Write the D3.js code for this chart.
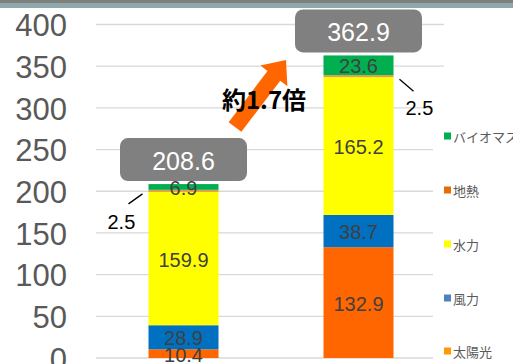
<!DOCTYPE html>
<html>
<head>
<meta charset="utf-8">
<script src="https://cdn.jsdelivr.net/npm/d3@7"></script>
<style>
  html, body { margin: 0; padding: 0; background: #fff; }
  svg { display: block; }
</style>
</head>
<body>
<svg id="chart" width="513" height="364"></svg>
<script>
// Renewable power capacity by source, two periods (stacked)
const categories = ["現在", "将来"];
const sources = ["太陽光", "風力", "水力", "地熱", "バイオマス"];
const solar   = [10.4, 132.9];
const wind    = [28.9, 38.7];
const hydro   = [159.9, 165.2];
const geo     = [2.5, 2.5];
const biomass = [6.9, 23.6];
const totals  = [208.6, 362.9];
const yTicks  = [0, 50, 100, 150, 200, 250, 300, 350, 400];
const ratioLabel = "約1.7倍";

const barColors = {
  "太陽光": "#FF6600", "風力": "#0070C0", "水力": "#FFFF00",
  "地熱": "#E4A040", "バイオマス": "#00B050"
};
const legendColors = {
  "太陽光": "#FF9900", "風力": "#4F81BD", "水力": "#FFFF00",
  "地熱": "#E46C0A", "バイオマス": "#00B050"
};

const rows = categories.map((c, i) => ({
  cat: c, "太陽光": solar[i], "風力": wind[i], "水力": hydro[i],
  "地熱": geo[i], "バイオマス": biomass[i], total: totals[i]
}));

const svg = d3.select("#chart");
const W = 513, H = 364;
const latin = "'Liberation Sans', Arial, sans-serif";
const cjk = "'Noto Sans CJK JP', sans-serif";

// window header strip
svg.append("rect").attr("x", 0).attr("y", 0).attr("width", W).attr("height", 8).attr("fill", "#8FA8AA");
svg.append("rect").attr("x", 0).attr("y", 0).attr("width", W).attr("height", 3).attr("fill", "#7F7F7F");

const x = d3.scaleBand().domain(categories).range([96, 446]).paddingInner(0.6).paddingOuter(0.3);
const y = d3.scaleLinear().domain([0, 400]).range([358, 24.5]);

// gridlines
const grid = svg.append("g");
grid.selectAll("line").data(yTicks).join("line")
  .attr("x1", 96).attr("x2", d => (y(d) < 80 ? 444 : 433))
  .attr("y1", d => y(d)).attr("y2", d => y(d))
  .attr("stroke", "#D9D9D9").attr("stroke-width", 1.3);

// y axis labels
const yAxis = svg.append("g").attr("transform", "translate(67,0)")
  .call(d3.axisLeft(y).tickValues(yTicks).tickSize(0).tickPadding(0));
yAxis.select(".domain").remove();
yAxis.selectAll("text")
  .attr("fill", "#595959").attr("font-family", latin).attr("font-size", 31)
  .attr("dy", "0.36em");

// stacked bars
const stack = d3.stack().keys(sources);
const series = stack(rows);
const bw = x.bandwidth();
const layers = svg.append("g").selectAll("g").data(series).join("g")
  .attr("fill", d => barColors[d.key]);
layers.selectAll("rect").data(d => d.map(v => ({ key: d.key, v }))).join("rect")
  .attr("x", d => x(d.v.data.cat))
  .attr("y", d => y(d.v[1]))
  .attr("width", bw)
  .attr("height", d => y(d.v[0]) - y(d.v[1]));

// in-bar value labels (geothermal values are called out beside the bars)
const labelKeys = ["太陽光", "風力", "水力", "バイオマス"];
series.filter(s => labelKeys.includes(s.key)).forEach(s => {
  svg.append("g").selectAll("text").data(s).join("text")
    .attr("x", d => x(d.data.cat) + bw / 2)
    .attr("y", d => (y(d[0]) + y(d[1])) / 2 + 1)
    .attr("text-anchor", "middle").attr("dominant-baseline", "central")
    .attr("font-family", latin).attr("font-size", 20).attr("fill", "#404040")
    .text(d => (d[1] - d[0]).toFixed(1));
});

// geothermal callouts with leader lines
const geoSeries = series.find(s => s.key === "地熱");
geoSeries.forEach((d, i) => {
  const ym = (y(d[0]) + y(d[1])) / 2;
  const left = i === 0;
  const bx = left ? x(d.data.cat) : x(d.data.cat) + bw;
  const dir = left ? -1 : 1;
  svg.append("line")
    .attr("x1", bx + dir * 6).attr("y1", ym + 3)
    .attr("x2", bx + dir * 20).attr("y2", ym + (left ? 13 : 15))
    .attr("stroke", "#000").attr("stroke-width", 1.3);
  svg.append("text")
    .attr("x", left ? bx - 41 : bx + 12).attr("y", ym + (left ? 31 : 32))
    .attr("font-family", latin).attr("font-size", 20).attr("fill", "#000")
    .attr("dominant-baseline", "central")
    .text(geo[i].toFixed(1));
});

// total callout boxes
const boxW = 127, boxH = 43;
rows.forEach(r => {
  const cx = x(r.cat) + bw / 2;
  const top = y(r.total);
  const g = svg.append("g");
  g.append("rect")
    .attr("x", cx - boxW / 2).attr("y", top - 3 - boxH)
    .attr("width", boxW).attr("height", boxH).attr("rx", 8)
    .attr("fill", "#808080");
  g.append("text")
    .attr("x", cx).attr("y", top - 3 - boxH / 2 + 1)
    .attr("text-anchor", "middle").attr("dominant-baseline", "central")
    .attr("font-family", latin).attr("font-size", 25).attr("fill", "#fff")
    .text(r.total.toFixed(1));
});

// growth arrow
const tail = [235, 127], tip = [286, 60];
const dx = tip[0] - tail[0], dy = tip[1] - tail[1];
const len = Math.hypot(dx, dy);
const ux = dx / len, uy = dy / len, px = -uy, py = ux;
const sw = 8, hw = 17, hl = 20;
const P = (a, b) => [tail[0] + ux * a + px * b, tail[1] + uy * a + py * b];
const arrowPts = [P(0, sw), P(len - hl, sw), P(len - hl, hw), P(len, 0),
  P(len - hl, -hw), P(len - hl, -sw), P(0, -sw)];
svg.append("path")
  .attr("d", d3.line()(arrowPts) + "Z")
  .attr("fill", "#FF6600");

svg.append("text")
  .attr("x", 264).attr("y", 98)
  .attr("text-anchor", "middle").attr("dominant-baseline", "central")
  .attr("font-family", cjk).attr("font-weight", "bold").attr("font-size", 24)
  .attr("fill", "#000")
  .text(ratioLabel);

// legend
const legend = svg.append("g");
const legendOrder = ["バイオマス", "地熱", "水力", "風力", "太陽光"];
const legendY = [136, 190, 244, 298, 351];
legendOrder.forEach((k, i) => {
  legend.append("rect").attr("x", 444).attr("y", legendY[i] - 3.5)
    .attr("width", 7).attr("height", 7).attr("fill", legendColors[k]);
  legend.append("text").attr("x", 453).attr("y", legendY[i])
    .attr("dominant-baseline", "central")
    .attr("font-family", cjk).attr("font-size", 13).attr("fill", "#595959")
    .text(k);
});
</script>
</body>
</html>
